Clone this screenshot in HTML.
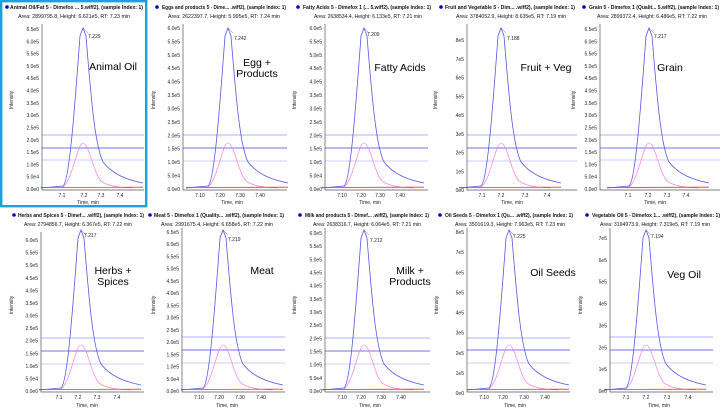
<!DOCTYPE html>
<html><head><meta charset="utf-8"><style>
html,body{margin:0;padding:0;background:#fff;}
svg{display:block;font-family:"Liberation Sans",sans-serif;}
.t{font-size:5.2px;fill:#111;}
.yl{font-size:5px;fill:#222;text-anchor:end;}
.xl{font-size:5px;fill:#222;text-anchor:middle;}
.ann{font-size:10.5px;fill:#000;text-anchor:middle;}
.pk{font-size:5px;fill:#222;}
.ax{stroke:#555;stroke-width:0.7;fill:none;}
</style></head><body>
<svg width="723" height="416" viewBox="0 0 723 416" xmlns="http://www.w3.org/2000/svg">
<defs>
<g id="cv">
<path d="M-42,0 L-20,-2 C-14,-6 -9,-70 -3,-152 L0,-160 L3,-152 C8,-90 12,-42 20,-26 C30,-13 45,-8 60,-5" fill="none" stroke="#5555ee" stroke-width="0.8"/>
<path d="M-22,0 C-11,-3 -6,-45 0,-45 C6,-45 10,-16 18,-7 C25,-2 35,-0.5 50,0" fill="none" stroke="#ff66dd" stroke-width="0.6"/>
<line x1="-42" y1="-0.5" x2="60" y2="-0.8" stroke="#ee3333" stroke-width="0.8"/>
<line x1="0" y1="-160" x2="5" y2="-155" stroke="#555" stroke-width="0.4"/>
</g>
</defs>
<rect x="1.2" y="1.2" width="145" height="205" fill="none" stroke="#1ba3d8" stroke-width="2.4"/>

<!-- ===== Panel 1 Animal Oil ===== -->
<circle cx="7" cy="7" r="1.8" fill="#0000cc"/>
<text class="t" x="10" y="9" textLength="133" lengthAdjust="spacingAndGlyphs" font-weight="bold">Animal Oil/Fat 5 - Dimefox ... 5.wiff2), (sample Index: 1)</text>
<text class="t" x="18" y="18" textLength="112" lengthAdjust="spacingAndGlyphs">Area: 2899795.8, Height: 6.621e5, RT: 7.23 min</text>
<g stroke="#7777ff" stroke-width="0.7"><line x1="42" y1="135" x2="144" y2="135" stroke="#9999ff"/><line x1="42" y1="148" x2="144" y2="148" stroke="#4444ee"/><line x1="42" y1="160" x2="144" y2="160" stroke="#bbbbff"/></g>
<use href="#cv" x="83" y="188"/>
<path class="ax" d="M42,24 V190 H144"/>
<text class="pk" x="88" y="38">7.229</text>
<g class="yl"><text x="39" y="191">0.0e0</text><text x="39" y="178.7">5.0e4</text><text x="39" y="166.4">1.0e5</text><text x="39" y="154.1">1.5e5</text><text x="39" y="141.8">2.0e5</text><text x="39" y="129.5">2.5e5</text><text x="39" y="117.1">3.0e5</text><text x="39" y="104.8">3.5e5</text><text x="39" y="92.5">4.0e5</text><text x="39" y="80.2">4.5e5</text><text x="39" y="67.9">5.0e5</text><text x="39" y="55.6">5.5e5</text><text x="39" y="43.3">6.0e5</text><text x="39" y="31">6.5e5</text></g>
<g class="xl"><text x="62" y="197">7.1</text><text x="84" y="197">7.2</text><text x="101" y="197">7.3</text><text x="120" y="197">7.4</text><text x="88" y="204">Time, min</text></g>
<text class="yl" transform="translate(13,100) rotate(-90)" style="text-anchor:middle">Intensity</text>
<text class="ann" x="113" y="70">Animal Oil</text>

<!-- ===== Panel 2 Egg ===== -->
<circle cx="157" cy="7" r="1.8" fill="#0000cc"/>
<text class="t" x="162" y="9" textLength="124" lengthAdjust="spacingAndGlyphs" font-weight="bold">Eggs and products 5 - Dime... .wiff2), (sample Index: 1)</text>
<text class="t" x="168" y="18" textLength="112" lengthAdjust="spacingAndGlyphs">Area: 2622397.7, Height: 5.995e5, RT: 7.24 min</text>
<g stroke-width="0.7"><line x1="183" y1="135" x2="287" y2="135" stroke="#9999ff"/><line x1="183" y1="148" x2="287" y2="148" stroke="#4444ee"/><line x1="183" y1="161" x2="287" y2="161" stroke="#bbbbff"/></g>
<use href="#cv" x="228" y="188"/>
<path class="ax" d="M183,24 V190 H287"/>
<text class="pk" x="234" y="40">7.242</text>
<g class="yl"><text x="180" y="191">0.0e0</text><text x="180" y="177.6">5.0e4</text><text x="180" y="164.2">1.0e5</text><text x="180" y="150.7">1.5e5</text><text x="180" y="137.3">2.0e5</text><text x="180" y="123.9">2.5e5</text><text x="180" y="110.5">3.0e5</text><text x="180" y="97.1">3.5e5</text><text x="180" y="83.6">4.0e5</text><text x="180" y="70.2">4.5e5</text><text x="180" y="56.8">5.0e5</text><text x="180" y="43.4">5.5e5</text><text x="180" y="30">6.0e5</text></g>
<g class="xl"><text x="200" y="197">7.10</text><text x="220" y="197">7.20</text><text x="240" y="197">7.30</text><text x="260" y="197">7.40</text><text x="232" y="204">Time, min</text></g>
<text class="yl" transform="translate(155,100) rotate(-90)" style="text-anchor:middle">Intensity</text>
<text class="ann" x="257" y="66">Egg +</text><text class="ann" x="257" y="77">Products</text>

<!-- ===== Panel 3 Fatty Acids ===== -->
<circle cx="298" cy="7" r="1.8" fill="#0000cc"/>
<text class="t" x="303" y="9" textLength="128" lengthAdjust="spacingAndGlyphs" font-weight="bold">Fatty Acids 5 - Dimefox 1 (... 5.wiff2), (sample Index: 1)</text>
<text class="t" x="314" y="18" textLength="108" lengthAdjust="spacingAndGlyphs">Area: 2638534.4, Height: 6.133e5, RT: 7.21 min</text>
<g stroke-width="0.7"><line x1="325" y1="135" x2="428" y2="135" stroke="#9999ff"/><line x1="325" y1="148" x2="428" y2="148" stroke="#4444ee"/><line x1="325" y1="161" x2="428" y2="161" stroke="#bbbbff"/></g>
<use href="#cv" x="364" y="188"/>
<path class="ax" d="M325,24 V190 H428"/>
<text class="pk" x="367" y="36">7.209</text>
<g class="yl"><text x="322" y="191">0.0e0</text><text x="322" y="177.6">5.0e4</text><text x="322" y="164.2">1.0e5</text><text x="322" y="150.7">1.5e5</text><text x="322" y="137.3">2.0e5</text><text x="322" y="123.9">2.5e5</text><text x="322" y="110.5">3.0e5</text><text x="322" y="97.1">3.5e5</text><text x="322" y="83.6">4.0e5</text><text x="322" y="70.2">4.5e5</text><text x="322" y="56.8">5.0e5</text><text x="322" y="43.4">5.5e5</text><text x="322" y="30">6.0e5</text></g>
<g class="xl"><text x="342" y="197">7.10</text><text x="361" y="197">7.20</text><text x="380" y="197">7.30</text><text x="400" y="197">7.40</text><text x="370" y="204">Time, min</text></g>
<text class="yl" transform="translate(296,100) rotate(-90)" style="text-anchor:middle">Intensity</text>
<text class="ann" x="400" y="71">Fatty Acids</text>

<!-- ===== Panel 4 Fruit + Veg ===== -->
<circle cx="441" cy="7" r="1.8" fill="#0000cc"/>
<text class="t" x="445" y="9" textLength="130" lengthAdjust="spacingAndGlyphs" font-weight="bold">Fruit and Vegetable 5 - Dim... .wiff2), (sample Index: 1)</text>
<text class="t" x="456" y="18" textLength="110" lengthAdjust="spacingAndGlyphs">Area: 3784052.9, Height: 8.635e5, RT: 7.19 min</text>
<g stroke-width="0.7"><line x1="467" y1="135" x2="577" y2="135" stroke="#9999ff"/><line x1="467" y1="148" x2="577" y2="148" stroke="#4444ee"/><line x1="467" y1="161" x2="577" y2="161" stroke="#bbbbff"/></g>
<use href="#cv" x="501" y="188"/>
<path class="ax" d="M467,24 V190 H577"/>
<text class="pk" x="507" y="40">7.188</text>
<g class="yl"><text x="464" y="192">0e0</text><text x="464" y="173.3">1e5</text><text x="464" y="154.5">2e5</text><text x="464" y="135.8">3e5</text><text x="464" y="117">4e5</text><text x="464" y="98.3">5e5</text><text x="464" y="79.5">6e5</text><text x="464" y="60.8">7e5</text><text x="464" y="42">8e5</text></g>
<g class="xl"><text x="482" y="197">7.1</text><text x="501" y="197">7.2</text><text x="525" y="197">7.3</text><text x="547" y="197">7.4</text><text x="512" y="204">Time, min</text></g>
<text class="yl" transform="translate(437,100) rotate(-90)" style="text-anchor:middle">Intensity</text>
<text class="ann" x="546" y="71">Fruit + Veg</text>

<!-- ===== Panel 5 Grain ===== -->
<circle cx="584" cy="7" r="1.8" fill="#0000cc"/>
<text class="t" x="589" y="9" textLength="130" lengthAdjust="spacingAndGlyphs" font-weight="bold">Grain 5 - Dimefox 1 (Qualit... 5.wiff2), (sample Index: 1)</text>
<text class="t" x="597" y="18" textLength="110" lengthAdjust="spacingAndGlyphs">Area: 2899372.4, Height: 6.486e5, RT: 7.22 min</text>
<g stroke-width="0.7"><line x1="600" y1="135" x2="720" y2="135" stroke="#9999ff"/><line x1="600" y1="148" x2="720" y2="148" stroke="#4444ee"/><line x1="600" y1="160" x2="720" y2="160" stroke="#bbbbff"/></g>
<use href="#cv" x="649" y="188"/>
<path class="ax" d="M600,24 V190 H720"/>
<text class="pk" x="654" y="38">7.217</text>
<g class="yl"><text x="597" y="191">0.0e0</text><text x="597" y="178.7">5.0e4</text><text x="597" y="166.4">1.0e5</text><text x="597" y="154.1">1.5e5</text><text x="597" y="141.8">2.0e5</text><text x="597" y="129.5">2.5e5</text><text x="597" y="117.1">3.0e5</text><text x="597" y="104.8">3.5e5</text><text x="597" y="92.5">4.0e5</text><text x="597" y="80.2">4.5e5</text><text x="597" y="67.9">5.0e5</text><text x="597" y="55.6">5.5e5</text><text x="597" y="43.3">6.0e5</text><text x="597" y="31">6.5e5</text></g>
<g class="xl"><text x="628" y="197">7.1</text><text x="648" y="197">7.2</text><text x="667" y="197">7.3</text><text x="686" y="197">7.4</text><text x="655" y="204">Time, min</text></g>
<text class="yl" transform="translate(575,100) rotate(-90)" style="text-anchor:middle">Intensity</text>
<text class="ann" x="670" y="71">Grain</text>

<!-- ===== Bottom row ===== -->
<circle cx="14" cy="215" r="1.8" fill="#0000cc"/>
<text class="t" x="18" y="217" textLength="126" lengthAdjust="spacingAndGlyphs" font-weight="bold">Herbs and Spices 5 - Dimef... .wiff2), (sample Index: 1)</text>
<text class="t" x="24" y="226" textLength="108" lengthAdjust="spacingAndGlyphs">Area: 2794856.7, Height: 6.367e5, RT: 7.22 min</text>
<g stroke-width="0.7"><line x1="41" y1="338" x2="144" y2="338" stroke="#9999ff"/><line x1="41" y1="351" x2="144" y2="351" stroke="#4444ee"/><line x1="41" y1="364" x2="144" y2="364" stroke="#bbbbff"/></g>
<use href="#cv" x="81" y="390"/>
<path class="ax" d="M41,232 V392 H144"/>
<text class="pk" x="84" y="237">7.217</text>
<g class="yl"><text x="38" y="393">0.0e0</text><text x="38" y="380.4">5.0e4</text><text x="38" y="367.8">1.0e5</text><text x="38" y="355.3">1.5e5</text><text x="38" y="342.7">2.0e5</text><text x="38" y="330.1">2.5e5</text><text x="38" y="317.5">3.0e5</text><text x="38" y="304.9">3.5e5</text><text x="38" y="292.3">4.0e5</text><text x="38" y="279.8">4.5e5</text><text x="38" y="267.2">5.0e5</text><text x="38" y="254.6">5.5e5</text><text x="38" y="242">6.0e5</text></g>
<g class="xl"><text x="59" y="399">7.1</text><text x="78" y="399">7.2</text><text x="97" y="399">7.3</text><text x="117" y="399">7.4</text><text x="87" y="407">Time, min</text></g>
<text class="yl" transform="translate(13,305) rotate(-90)" style="text-anchor:middle">Intensity</text>
<text class="ann" x="113" y="274">Herbs +</text><text class="ann" x="113" y="285">Spices</text>

<circle cx="150" cy="215" r="1.8" fill="#0000cc"/>
<text class="t" x="154" y="217" textLength="130" lengthAdjust="spacingAndGlyphs" font-weight="bold">Meat 5 - Dimefox 1 (Quality... .wiff2), (sample Index: 1)</text>
<text class="t" x="161" y="226" textLength="112" lengthAdjust="spacingAndGlyphs">Area: 2991675.4, Height: 6.658e5, RT: 7.22 min</text>
<g stroke-width="0.7"><line x1="182" y1="337" x2="285" y2="337" stroke="#9999ff"/><line x1="182" y1="350" x2="285" y2="350" stroke="#4444ee"/><line x1="182" y1="363" x2="285" y2="363" stroke="#bbbbff"/></g>
<use href="#cv" x="223" y="390"/>
<path class="ax" d="M182,228 V392 H285"/>
<text class="pk" x="228" y="241">7.219</text>
<g class="yl"><text x="179" y="393">0.0e0</text><text x="179" y="380.8">5.0e4</text><text x="179" y="368.5">1.0e5</text><text x="179" y="356.3">1.5e5</text><text x="179" y="344.1">2.0e5</text><text x="179" y="331.8">2.5e5</text><text x="179" y="319.6">3.0e5</text><text x="179" y="307.4">3.5e5</text><text x="179" y="295.2">4.0e5</text><text x="179" y="282.9">4.5e5</text><text x="179" y="270.7">5.0e5</text><text x="179" y="258.5">5.5e5</text><text x="179" y="246.2">6.0e5</text><text x="179" y="234">6.5e5</text></g>
<g class="xl"><text x="199" y="399">7.10</text><text x="219" y="399">7.20</text><text x="240" y="399">7.30</text><text x="261" y="399">7.40</text><text x="227" y="407">Time, min</text></g>
<text class="yl" transform="translate(155,305) rotate(-90)" style="text-anchor:middle">Intensity</text>
<text class="ann" x="262" y="274">Meat</text>

<circle cx="300" cy="215" r="1.8" fill="#0000cc"/>
<text class="t" x="305" y="217" textLength="124" lengthAdjust="spacingAndGlyphs" font-weight="bold">Milk and products 5 - Dimef... .wiff2), (sample Index: 1)</text>
<text class="t" x="313" y="226" textLength="108" lengthAdjust="spacingAndGlyphs">Area: 2638316.7, Height: 6.064e5, RT: 7.21 min</text>
<g stroke-width="0.7"><line x1="325" y1="338" x2="430" y2="338" stroke="#9999ff"/><line x1="325" y1="351" x2="430" y2="351" stroke="#4444ee"/><line x1="325" y1="364" x2="430" y2="364" stroke="#bbbbff"/></g>
<use href="#cv" x="364" y="390"/>
<path class="ax" d="M325,228 V392 H430"/>
<text class="pk" x="370" y="242">7.212</text>
<g class="yl"><text x="322" y="393">0.0e0</text><text x="322" y="379.8">5.0e4</text><text x="322" y="366.7">1.0e5</text><text x="322" y="353.5">1.5e5</text><text x="322" y="340.3">2.0e5</text><text x="322" y="327.2">2.5e5</text><text x="322" y="314">3.0e5</text><text x="322" y="300.8">3.5e5</text><text x="322" y="287.7">4.0e5</text><text x="322" y="274.5">4.5e5</text><text x="322" y="261.3">5.0e5</text><text x="322" y="248.2">5.5e5</text><text x="322" y="235">6.0e5</text></g>
<g class="xl"><text x="342" y="399">7.10</text><text x="361" y="399">7.20</text><text x="381" y="399">7.30</text><text x="401" y="399">7.40</text><text x="370" y="407">Time, min</text></g>
<text class="yl" transform="translate(296,305) rotate(-90)" style="text-anchor:middle">Intensity</text>
<text class="ann" x="410" y="274">Milk +</text><text class="ann" x="410" y="285">Products</text>

<circle cx="440" cy="215" r="1.8" fill="#0000cc"/>
<text class="t" x="445" y="217" textLength="128" lengthAdjust="spacingAndGlyphs" font-weight="bold">Oil Seeds 5 - Dimefox 1 (Qu... .wiff2), (sample Index: 1)</text>
<text class="t" x="455" y="226" textLength="110" lengthAdjust="spacingAndGlyphs">Area: 3501619.3, Height: 7.963e5, RT: 7.23 min</text>
<g stroke-width="0.7"><line x1="467" y1="338" x2="570" y2="338" stroke="#9999ff"/><line x1="467" y1="350" x2="570" y2="350" stroke="#4444ee"/><line x1="467" y1="363" x2="570" y2="363" stroke="#bbbbff"/></g>
<use href="#cv" x="509" y="390"/>
<path class="ax" d="M467,228 V392 H570"/>
<text class="pk" x="513" y="238">7.225</text>
<g class="yl"><text x="464" y="395">0e0</text><text x="464" y="374.9">1e5</text><text x="464" y="354.8">2e5</text><text x="464" y="334.6">3e5</text><text x="464" y="314.5">4e5</text><text x="464" y="294.4">5e5</text><text x="464" y="274.3">6e5</text><text x="464" y="254.1">7e5</text><text x="464" y="234">8e5</text></g>
<g class="xl"><text x="484" y="399">7.10</text><text x="503" y="399">7.20</text><text x="524" y="399">7.30</text><text x="545" y="399">7.40</text><text x="515" y="407">Time, min</text></g>
<text class="yl" transform="translate(438,305) rotate(-90)" style="text-anchor:middle">Intensity</text>
<text class="ann" x="553" y="276">Oil Seeds</text>

<circle cx="587" cy="215" r="1.8" fill="#0000cc"/>
<text class="t" x="592" y="217" textLength="128" lengthAdjust="spacingAndGlyphs" font-weight="bold">Vegetable Oil 5 - Dimefox 1... .wiff2), (sample Index: 1)</text>
<text class="t" x="600" y="226" textLength="110" lengthAdjust="spacingAndGlyphs">Area: 3194973.9, Height: 7.319e5, RT: 7.19 min</text>
<g stroke-width="0.7"><line x1="610" y1="337" x2="713" y2="337" stroke="#9999ff"/><line x1="610" y1="350" x2="713" y2="350" stroke="#4444ee"/><line x1="610" y1="363" x2="713" y2="363" stroke="#bbbbff"/></g>
<use href="#cv" x="646" y="390"/>
<path class="ax" d="M610,228 V392 H713"/>
<text class="pk" x="651" y="238">7.194</text>
<g class="yl"><text x="607" y="393">0e0</text><text x="607" y="371.1">1e5</text><text x="607" y="349.3">2e5</text><text x="607" y="327.4">3e5</text><text x="607" y="305.6">4e5</text><text x="607" y="283.7">5e5</text><text x="607" y="261.9">6e5</text><text x="607" y="240">7e5</text></g>
<g class="xl"><text x="626" y="399">7.1</text><text x="646" y="399">7.2</text><text x="667" y="399">7.3</text><text x="688" y="399">7.4</text><text x="659" y="407">Time, min</text></g>
<text class="yl" transform="translate(582,305) rotate(-90)" style="text-anchor:middle">Intensity</text>
<text class="ann" x="684" y="278">Veg Oil</text>
</svg>
</body></html>
